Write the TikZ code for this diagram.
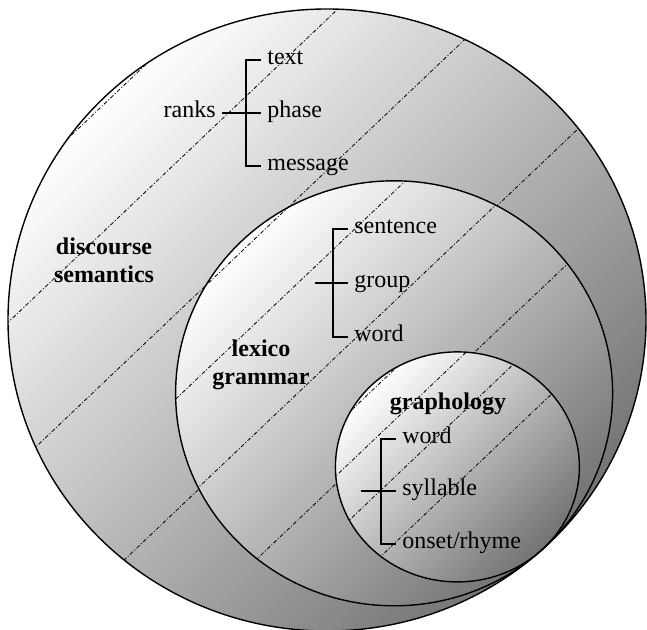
\documentclass[tikz,border=0pt]{standalone}
\usepackage{fontspec}
\setmainfont{Liberation Serif}

\begin{document}
\begin{tikzpicture}[
    x=0.5pt, y=-0.5pt,
    ring/.style={draw=black, line width=0.7pt},
    shadeball/.style={top color=white, bottom color=black!55, shading angle=45},
    hatch/.style={black, line width=0.4pt, dash pattern=on 2pt off 1pt on 0.5pt off 1pt},
    lbl/.style={font=\fontsize{12}{14}\selectfont, anchor=west, inner sep=3pt,
                text height=1.1ex, text depth=0.1ex},
    hd/.style={font=\fontsize{12}{14}\selectfont\bfseries, align=center},
    brk/.style={line width=0.7pt}
  ]
    \useasboundingbox (0,0) rectangle (647,630);

    % Outer circle
    \shade[shadeball] (327,320) ellipse [x radius=319, y radius=311];
    \begin{scope}
      \clip (327,320) ellipse [x radius=319, y radius=311];
      \foreach \c in {203,330,481,678}
        \draw[hatch] (-20,{\c+19}) -- (700,{\c-665});
    \end{scope}

    % Middle circle
    \shade[shadeball] (394.1,393.3) ellipse [x radius=218.5, y radius=212.5];
    \begin{scope}
      \clip (394.1,393.3) ellipse [x radius=218.5, y radius=212.5];
      \foreach \c in {481,566,676,803}
        \draw[hatch] (-20,{\c+19}) -- (700,{\c-665});
    \end{scope}

    % Inner circle
    \shade[shadeball] (457.4,466.9) ellipse [x radius=122, y radius=115];
    \begin{scope}
      \clip (457.4,466.9) ellipse [x radius=122, y radius=115];
      \foreach \c in {744,795,852,918}
        \draw[hatch] (-20,{\c+19}) -- (700,{\c-665});
    \end{scope}

    \draw[ring] (327,320) ellipse [x radius=319, y radius=311];
    \draw[ring] (394.1,393.3) ellipse [x radius=218.5, y radius=212.5];
    \draw[ring] (457.4,466.9) ellipse [x radius=122, y radius=115];

    % Strata
    \node[hd] (disc)  at (104,260) {discourse\\semantics};
    \node[hd] (lexgr) at (261,365) {lexico\\grammar};
    \node[hd] (graph) at (448,404) {graphology};

    % Ranks of discourse semantics
    \node[lbl] (text)    at (261,60)  {text};
    \node[lbl] (phase)   at (261,113) {phase};
    \node[lbl] (message) at (261,166) {message};
    \node[lbl, anchor=east] (ranks) at (222,113) {ranks};
    \draw[brk] (text.west) -- ++(-15,0) |- (message.west);
    \draw[brk] (ranks.east) -- (phase.west);

    % Ranks of lexicogrammar
    \node[lbl] (sent)  at (348,229) {sentence};
    \node[lbl] (group) at (348,283) {group};
    \node[lbl] (lword) at (348,337) {word};
    \coordinate (lgstub) at (315,283);
    \draw[brk] (sent.west) -- ++(-15,0) |- (lword.west);
    \draw[brk] (lgstub) -- (group.west);

    % Ranks of graphology
    \node[lbl] (gword) at (396,439) {word};
    \node[lbl] (syll)  at (396,491) {syllable};
    \node[lbl] (onset) at (396,544) {onset/rhyme};
    \coordinate (grstub) at (361,491);
    \draw[brk] (gword.west) -- ++(-15,0) |- (onset.west);
    \draw[brk] (grstub) -- (syll.west);
\end{tikzpicture}
\end{document}
